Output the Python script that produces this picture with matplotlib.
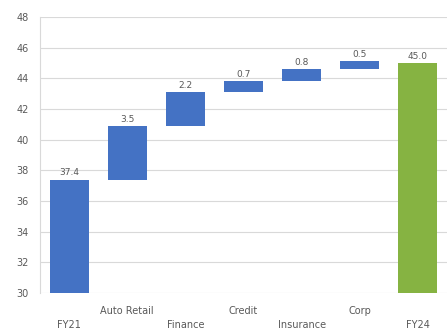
import numpy as np
import matplotlib
matplotlib.use("Agg")
import matplotlib.pyplot as plt

categories = ["FY21", "Auto Retail", "Finance", "Credit", "Insurance", "Corp", "FY24"]
deltas = [37.4, 3.5, 2.2, 0.7, 0.8, 0.5]
total = 45.0
labels = ["37.4", "3.5", "2.2", "0.7", "0.8", "0.5", "45.0"]

BLUE = "#4472C4"
GREEN = "#86B342"
GRID = "#D9D9D9"
TXT = "#595959"

ymin = 30
cum = np.cumsum(deltas)
bottoms = [ymin] + list(cum[:-1]) + [ymin]
tops = list(cum) + [total]
heights = [t - b for t, b in zip(tops, bottoms)]
colors = [BLUE] * 6 + [GREEN]

fig = plt.figure(figsize=(4.48, 3.33), dpi=100)
ax = fig.add_axes([40 / 448, 1 - 293 / 333, 407 / 448, 276 / 333])
x = np.arange(len(categories))
ax.bar(x, heights, bottom=bottoms, width=0.67, color=colors, zorder=3)

for xi, t, lab in zip(x, tops, labels):
    ax.text(xi, t + 0.15, lab, ha="center", va="bottom", fontsize=6.5, color=TXT)

ax.set_ylim(30, 48)
ax.set_xlim(-0.5, len(categories) - 0.5)
ax.set_yticks(range(30, 49, 2))
ax.yaxis.grid(True, color=GRID, lw=0.8, zorder=0)
ax.tick_params(axis="y", length=0, labelsize=7, labelcolor=TXT, pad=8)
ax.set_xticks([])
for s in ["top", "right", "bottom"]:
    ax.spines[s].set_visible(False)
ax.spines["left"].set_color(GRID)

# staggered category labels
for i, c in enumerate(categories):
    yoff = -0.065 if i % 2 == 1 else -0.115
    ax.text(i, yoff, c, transform=ax.get_xaxis_transform(), ha="center",
            va="center", fontsize=7, color=TXT)

fig.savefig("out.png", dpi=100)
